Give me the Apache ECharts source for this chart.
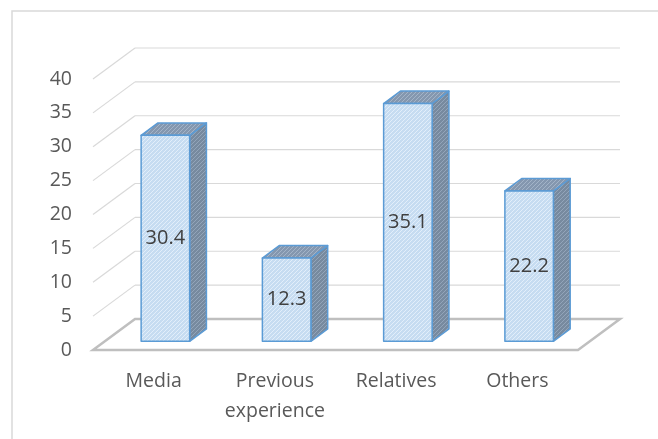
<!DOCTYPE html>
<html><head><meta charset="utf-8">
<script src="https://cdn.jsdelivr.net/npm/echarts@6/dist/echarts.min.js"></script>
<style>html,body{margin:0;padding:0;background:#fff}#c{width:658px;height:439px}</style>
</head><body><div id="c"></div>
<script>
const categories = ['Media', 'Previous\nexperience', 'Relatives', 'Others'];
const values = [30.4, 12.3, 35.1, 22.2];
const yTicks = [0, 5, 10, 15, 20, 25, 30, 35, 40];

const DX = 42, DY = -31, F1 = 0.28, F2 = 0.68;
const FONT = 'Open Sans';

function makePattern(base, stripe) {
  const c = document.createElement('canvas'); c.width = 4; c.height = 4;
  const g = c.getContext('2d');
  g.fillStyle = base; g.fillRect(0, 0, 4, 4);
  g.fillStyle = stripe;
  for (let i = 0; i < 4; i++) g.fillRect(i, 3 - i, 1, 1);
  return { image: c, repeat: 'repeat' };
}
const frontFill = makePattern('#c6dcf1', '#e2eefa');
const sideFill = makePattern('#778a9f', '#93a5ba');
const topFill = makePattern('#8497af', '#a3b4c8');

const chart = echarts.init(document.getElementById('c'), null, { renderer: 'canvas' });
chart.setOption({
  animation: false,
  backgroundColor: '#fff',
  graphic: [{
    type: 'rect', z: 0, silent: true,
    shape: { x: 12, y: 11, width: 700, height: 500 },
    style: { fill: 'none', stroke: '#d9d9d9', lineWidth: 1.5 }
  }],
  grid: { left: 93, right: 80, top: 79, bottom: 89 },
  xAxis: {
    type: 'category', data: categories,
    axisLine: { show: false }, axisTick: { show: false }, splitLine: { show: false },
    axisLabel: { color: '#595959', fontSize: 19.5, fontFamily: FONT, lineHeight: 30, margin: 16, interval: 0 }
  },
  yAxis: {
    type: 'value', min: 0, max: 40, interval: 5,
    axisLine: { show: false }, axisTick: { show: false }, splitLine: { show: false },
    axisLabel: { color: '#595959', fontSize: 19.5, fontFamily: FONT, margin: 21 }
  },
  series: [{
    type: 'custom', z: 1, silent: true,
    data: yTicks.map(v => [0, v]),
    renderItem(params, api) {
      const cs = params.coordSys;
      const y = api.coord([0, api.value(1)])[1];
      const x0 = cs.x, x1 = cs.x + cs.width;
      const isFloor = api.value(1) === 0;
      const stroke = isFloor ? '#bfbfbf' : '#d9d9d9';
      const lw = isFloor ? 2.5 : 1.2;
      const children = [];
      if (isFloor) {
        children.push({ type: 'polygon', shape: { points: [[x0, y], [x1, y], [x1 + DX, y + DY], [x0 + DX, y + DY]] },
          style: { fill: 'none', stroke, lineWidth: lw } });
      } else {
        children.push({ type: 'line', shape: { x1: x0 + DX, y1: y + DY, x2: x1 + DX, y2: y + DY }, style: { stroke, lineWidth: lw } });
        children.push({ type: 'line', shape: { x1: x0, y1: y, x2: x0 + DX, y2: y + DY }, style: { stroke, lineWidth: lw } });
      }
      return { type: 'group', children };
    }
  }, {
    type: 'custom', z: 2, silent: true,
    data: values.map((v, i) => [i, v]),
    renderItem(params, api) {
      const i = api.value(0), v = api.value(1);
      const base = api.coord([i, 0]);
      const top = api.coord([i, v]);
      const band = api.size([1, 0])[0];
      const w = band * 0.4;
      const ox1 = DX * F1, oy1 = DY * F1;
      const sx = DX * (F2 - F1), sy = DY * (F2 - F1);
      const xl = base[0] - w / 2 + ox1, xr = xl + w;
      const yb = base[1] + oy1, yt = top[1] + oy1;
      const edge = { stroke: '#5b9bd5', lineWidth: 1.5, lineJoin: 'round' };
      return {
        type: 'group',
        children: [
          { type: 'polygon', shape: { points: [[xr, yt], [xr + sx, yt + sy], [xr + sx, yb + sy], [xr, yb]] },
            style: Object.assign({ fill: sideFill }, edge) },
          { type: 'polygon', shape: { points: [[xl, yt], [xr, yt], [xr + sx, yt + sy], [xl + sx, yt + sy]] },
            style: Object.assign({ fill: topFill }, edge) },
          { type: 'rect', shape: { x: xl, y: yt, width: w, height: yb - yt },
            style: Object.assign({ fill: frontFill }, edge) },
          { type: 'text', style: { text: String(v), x: (xl + xr) / 2, y: (yt + yb) / 2,
            align: 'center', verticalAlign: 'middle', fill: '#404040', fontSize: 20, fontFamily: FONT } }
        ]
      };
    }
  }]
});
</script></body></html>
